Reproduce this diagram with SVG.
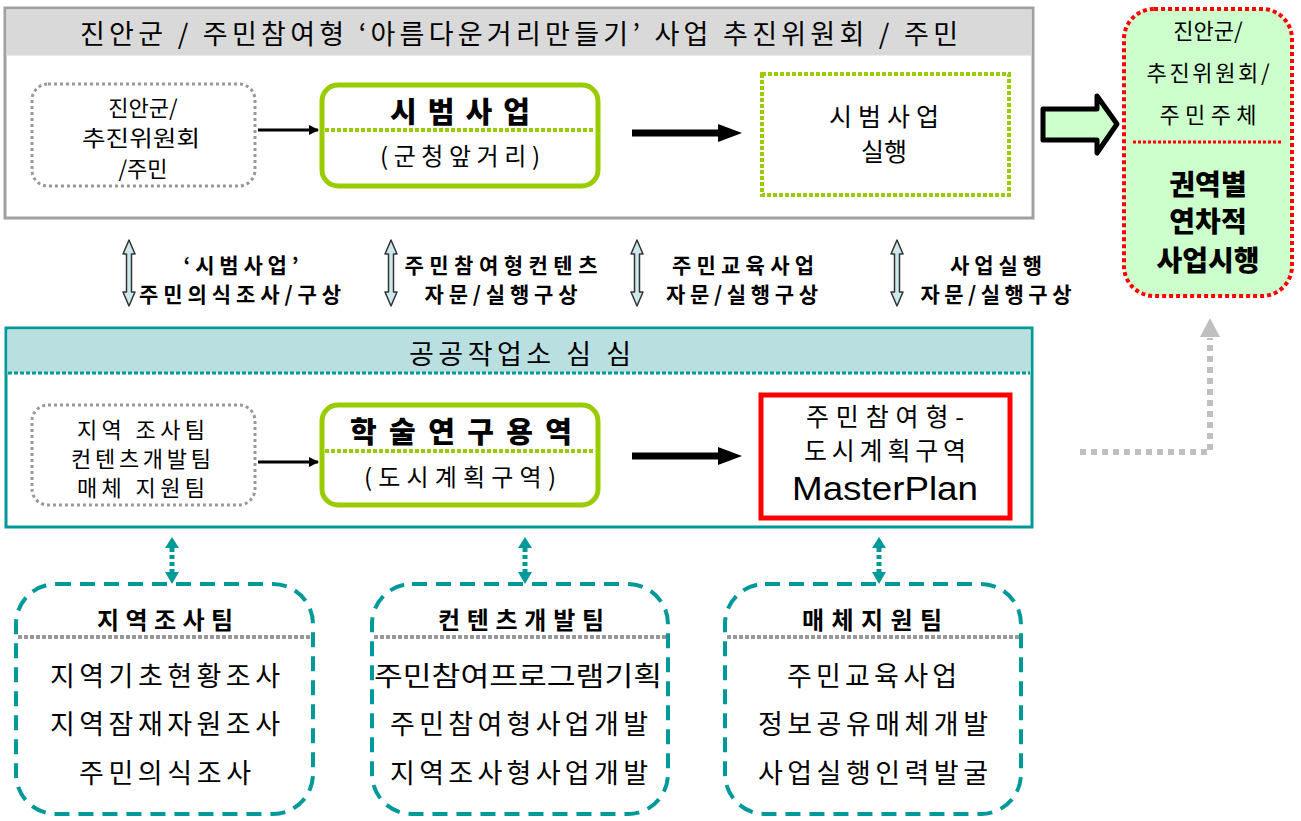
<svg xmlns="http://www.w3.org/2000/svg" width="1301" height="821" viewBox="0 0 1301 821">
<defs>
<style>
text{font-family:"Noto Sans CJK KR","Noto Sans",sans-serif;fill:#000;text-anchor:middle}
.hd{font-size:27px}
.n21{font-size:22px}
.n22{font-size:23px}
.r22{font-size:22px}
.b20{font-size:21px;font-weight:700}
.b22{font-size:24px;font-weight:700}
.b26{font-size:29px;font-weight:900}
.b28{font-size:28px;font-weight:900}
.it{font-size:27px}
.green{fill:#fff;stroke:#99cc00;stroke-width:5}
.grayDot{fill:#fff;stroke:#999;stroke-width:3;stroke-dasharray:3 3}
.teamBox{fill:none;stroke:#009999;stroke-width:4;stroke-dasharray:15 9}
.dbl{fill:#cde8ec;stroke:#333;stroke-width:1.5;stroke-linejoin:round}
</style>
<marker id="ah" markerWidth="10" markerHeight="10" refX="9" refY="5" orient="auto" markerUnits="userSpaceOnUse" viewBox="0 0 10 10">
<path d="M0,0 L10,5 L0,10 z" fill="#000"/>
</marker>
</defs>
<rect width="1301" height="821" fill="#fff"/>

<g id="top-panel">
<rect x="5" y="8" width="1028" height="210" fill="#fff" stroke="#a0a0a0" stroke-width="3"/>
<rect x="6.5" y="9.5" width="1025" height="46" fill="#d9d9d9"/>
<text class="hd" x="519" y="44" textLength="878" lengthAdjust="spacing">진안군 / 주민참여형 ‘아름다운거리만들기’ 사업 추진위원회 / 주민</text>
</g>

<g id="node-actors-top">
<rect class="grayDot" x="32" y="84" width="223" height="102" rx="16"/>
<text class="n21" x="143" y="116">진안군/</text>
<text class="n21" x="141" y="146" textLength="118" lengthAdjust="spacingAndGlyphs">추진위원회</text>
<text class="n21" x="143" y="177">/주민</text>
</g>

<g id="node-pilot">
<rect class="green" x="322" y="85" width="276" height="101" rx="16"/>
<line x1="325" y1="130" x2="595" y2="130" stroke="#99cc00" stroke-width="4" stroke-dasharray="4 2"/>
<text class="b26" x="460" y="123" textLength="140" lengthAdjust="spacing">시범사업</text>
<text style="font-size:24px" x="460" y="165" textLength="160" lengthAdjust="spacing">(군청앞거리)</text>
</g>

<g id="node-pilot-exec">
<rect x="762" y="74" width="247" height="121" fill="#fff" stroke="#99cc00" stroke-width="4" stroke-dasharray="4 2"/>
<text style="font-size:25px" x="884" y="126" textLength="110" lengthAdjust="spacing">시범사업</text>
<text style="font-size:25px" x="884" y="161">실행</text>
</g>

<g id="node-result">
<rect x="1124" y="9" width="168" height="287" rx="30" fill="#ccffcc" stroke="#ff0000" stroke-width="4" stroke-dasharray="4 3"/>
<text class="r22" x="1208" y="39">진안군/</text>
<text class="r22" x="1208" y="81" textLength="123" lengthAdjust="spacing">추진위원회/</text>
<text class="r22" x="1208" y="123" textLength="97" lengthAdjust="spacing">주민주체</text>
<line x1="1133" y1="142" x2="1283" y2="142" stroke="#ff0000" stroke-width="3" stroke-dasharray="3 2"/>
<text class="b28" x="1208" y="195">권역별</text>
<text class="b28" x="1208" y="232">연차적</text>
<text class="b28" x="1208" y="271">사업시행</text>
</g>

<g id="bottom-panel">
<rect x="6" y="328" width="1026" height="199" fill="#fff" stroke="#009999" stroke-width="3"/>
<rect x="7.5" y="329.5" width="1023" height="43" fill="#b9dfe1"/>
<line x1="8" y1="373" x2="1030" y2="373" stroke="#009999" stroke-width="3" stroke-dasharray="4 2"/>
<text class="hd" x="520" y="364" textLength="222" lengthAdjust="spacing">공공작업소 심 심</text>
</g>

<g id="node-actors-bottom">
<rect class="grayDot" x="32" y="405" width="223" height="100" rx="16"/>
<text class="n21" x="141" y="438" textLength="128" lengthAdjust="spacing">지역 조사팀</text>
<text class="n21" x="141" y="467" textLength="140" lengthAdjust="spacing">컨텐츠개발팀</text>
<text class="n21" x="141" y="496" textLength="128" lengthAdjust="spacing">매체 지원팀</text>
</g>

<g id="node-research">
<rect class="green" x="322" y="405" width="276" height="100" rx="16"/>
<line x1="325" y1="451" x2="595" y2="451" stroke="#99cc00" stroke-width="4" stroke-dasharray="4 2"/>
<text class="b26" x="461" y="443" textLength="222" lengthAdjust="spacing">학술연구용역</text>
<text style="font-size:24px" x="460" y="486" textLength="192" lengthAdjust="spacing">(도시계획구역)</text>
</g>

<g id="node-masterplan">
<rect x="761" y="395" width="249" height="123" fill="#fff" stroke="#ff0000" stroke-width="5"/>
<text style="font-size:25px" x="885" y="426" textLength="158" lengthAdjust="spacing">주민참여형-</text>
<text style="font-size:25px" x="885" y="460" textLength="162" lengthAdjust="spacing">도시계획구역</text>
<text style="font-family:'Liberation Sans',Arial,sans-serif;font-size:33px" x="885" y="500" textLength="186" lengthAdjust="spacingAndGlyphs">MasterPlan</text>
</g>

<g id="team-survey">
<rect class="teamBox" x="16" y="584" width="297" height="230" rx="40"/>
<line x1="18" y1="637" x2="312" y2="637" stroke="#999" stroke-width="4" stroke-dasharray="4 2"/>
<text class="b22" x="165" y="629" textLength="136" lengthAdjust="spacing">지역조사팀</text>
<text class="it" x="165" y="686" textLength="230" lengthAdjust="spacing">지역기초현황조사</text>
<text class="it" x="165" y="734" textLength="230" lengthAdjust="spacing">지역잠재자원조사</text>
<text class="it" x="165" y="783" textLength="172" lengthAdjust="spacing">주민의식조사</text>
</g>

<g id="team-contents">
<rect class="teamBox" x="372" y="584" width="296" height="230" rx="40"/>
<line x1="374" y1="637" x2="667" y2="637" stroke="#999" stroke-width="4" stroke-dasharray="4 2"/>
<text class="b22" x="521" y="629" textLength="166" lengthAdjust="spacing">컨텐츠개발팀</text>
<text class="it" x="518" y="686" textLength="288" lengthAdjust="spacingAndGlyphs">주민참여프로그램기획</text>
<text class="it" x="519" y="734" textLength="258" lengthAdjust="spacing">주민참여형사업개발</text>
<text class="it" x="519" y="783" textLength="258" lengthAdjust="spacing">지역조사형사업개발</text>
</g>

<g id="team-media">
<rect class="teamBox" x="725" y="584" width="296" height="230" rx="40"/>
<line x1="727" y1="637" x2="1020" y2="637" stroke="#999" stroke-width="4" stroke-dasharray="4 2"/>
<text class="b22" x="872" y="629" textLength="140" lengthAdjust="spacing">매체지원팀</text>
<text class="it" x="872" y="686" textLength="170" lengthAdjust="spacing">주민교육사업</text>
<text class="it" x="873" y="734" textLength="230" lengthAdjust="spacing">정보공유매체개발</text>
<text class="it" x="873" y="783" textLength="230" lengthAdjust="spacing">사업실행인력발굴</text>
</g>

<g id="connectors">
<line x1="258" y1="130" x2="318" y2="130" stroke="#000" stroke-width="3" marker-end="url(#ah)"/>
<line x1="258" y1="462" x2="318" y2="462" stroke="#000" stroke-width="3" marker-end="url(#ah)"/>
<line x1="632" y1="133" x2="722" y2="133" stroke="#000" stroke-width="7"/>
<polygon points="718,124 742,133 718,142" fill="#000"/>
<line x1="632" y1="456" x2="722" y2="456" stroke="#000" stroke-width="7"/>
<polygon points="718,447 742,456 718,465" fill="#000"/>
<polygon points="1043,109 1097,109 1097,96 1117,124 1097,153 1097,140 1043,140" fill="#ccffcc" stroke="#000" stroke-width="5" stroke-linejoin="round"/>
<path d="M1080,452 H1210 V338" fill="none" stroke="#bfbfbf" stroke-width="6" stroke-dasharray="6 5"/>
<polygon points="1200,337 1220,337 1210,318" fill="#bfbfbf"/>
<g id="dbl-arrows">
<path class="dbl" d="M129,240 L135,254 L131.5,254 L131.5,292 L135,292 L129,306 L123,292 L126.5,292 L126.5,254 L123,254 Z"/>
<path class="dbl" d="M391,240 L397,254 L393.5,254 L393.5,292 L397,292 L391,306 L385,292 L388.5,292 L388.5,254 L385,254 Z"/>
<path class="dbl" d="M637,240 L643,254 L639.5,254 L639.5,292 L643,292 L637,306 L631,292 L634.5,292 L634.5,254 L631,254 Z"/>
<path class="dbl" d="M897,240 L903,254 L899.5,254 L899.5,292 L903,292 L897,306 L891,292 L894.5,292 L894.5,254 L891,254 Z"/>
</g>
<g id="teal-arrows" fill="#009999">
<line x1="172" y1="548" x2="172" y2="572" stroke="#009999" stroke-width="5" stroke-dasharray="4 3"/>
<polygon points="165,548 179,548 172,537"/><polygon points="165,572 179,572 172,584"/>
<line x1="525" y1="548" x2="525" y2="572" stroke="#009999" stroke-width="5" stroke-dasharray="4 3"/>
<polygon points="518,548 532,548 525,537"/><polygon points="518,572 532,572 525,584"/>
<line x1="879" y1="548" x2="879" y2="572" stroke="#009999" stroke-width="5" stroke-dasharray="4 3"/>
<polygon points="872,548 886,548 879,537"/><polygon points="872,572 886,572 879,584"/>
</g>
</g>

<g id="labels">
<text class="b20" x="241" y="273" textLength="115" lengthAdjust="spacing">‘시범사업’</text>
<text class="b20" x="240" y="302" textLength="202" lengthAdjust="spacing">주민의식조사/구상</text>
<text class="b20" x="501" y="273" textLength="193" lengthAdjust="spacing">주민참여형컨텐츠</text>
<text class="b20" x="501" y="302" textLength="153" lengthAdjust="spacing">자문/실행구상</text>
<text class="b20" x="743" y="273" textLength="142" lengthAdjust="spacing">주민교육사업</text>
<text class="b20" x="742" y="302" textLength="152" lengthAdjust="spacing">자문/실행구상</text>
<text class="b20" x="996" y="273" textLength="92" lengthAdjust="spacing">사업실행</text>
<text class="b20" x="996" y="302" textLength="151" lengthAdjust="spacing">자문/실행구상</text>
</g>
</svg>
